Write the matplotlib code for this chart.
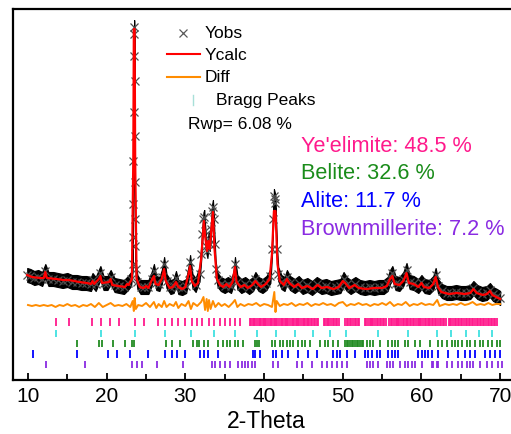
import numpy as np
import matplotlib.pyplot as plt
from matplotlib.lines import Line2D
from matplotlib.ticker import MultipleLocator

plt.rcParams['font.family'] = ['Liberation Sans', 'DejaVu Sans']

# ---- values (2-theta, intensity) ----
calc_pts = [
    (9.9, 104), (10.5, 102), (11.5, 101), (12.0, 101), (12.2, 107), (12.4, 101),
    (13.6, 100), (14.5, 99), (15.2, 99), (16.5, 97), (17.5, 96), (18.0, 95),
    (18.2, 98), (18.4, 95), (19.0, 100), (19.2, 103), (19.4, 96), (20.3, 97),
    (20.5, 100), (20.7, 94), (21.5, 93), (22.3, 92), (22.6, 95), (22.8, 94),
    (23.2, 100), (23.38, 220), (23.45, 350), (23.55, 350), (23.62, 220), (23.8, 100),
    (24.2, 92), (24.7, 91), (25.0, 93), (25.3, 91), (25.8, 100), (26.0, 103),
    (26.2, 95), (26.6, 94), (27.0, 100), (27.3, 110), (27.5, 98), (28.0, 91),
    (28.4, 92), (28.8, 97), (29.1, 92), (29.6, 90), (30.0, 92), (30.4, 105),
    (30.6, 113), (30.8, 98), (31.2, 93), (31.6, 96), (32.0, 120), (32.35, 158),
    (32.55, 140), (32.75, 128), (32.9, 138), (33.1, 130), (33.3, 150), (33.5, 167),
    (33.7, 130), (34.0, 100), (34.4, 94), (34.8, 92), (35.2, 95), (35.6, 92),
    (36.0, 97), (36.3, 112), (36.5, 97), (37.0, 92), (37.5, 94), (37.9, 91),
    (38.5, 94), (38.9, 98), (39.2, 95), (39.6, 92), (40.2, 95), (40.7, 100),
    (41.0, 125), (41.25, 168), (41.45, 168), (41.7, 115), (42.0, 98), (42.5, 94),
    (42.9, 100), (43.2, 96), (43.8, 92), (44.3, 95), (44.8, 91), (45.5, 93),
    (46.2, 90), (46.8, 94), (47.3, 91), (48.0, 92), (48.8, 90), (49.5, 92),
    (50.0, 98), (50.3, 96), (50.8, 91), (51.5, 94), (52.0, 91), (53.0, 90),
    (54.0, 91), (55.0, 91), (55.6, 93), (56.0, 100), (56.3, 103), (56.6, 95),
    (57.2, 94), (57.7, 98), (58.1, 106), (58.4, 96), (59.0, 95), (59.6, 92),
    (60.0, 96), (60.3, 92), (61.0, 91), (61.5, 95), (61.8, 102), (62.1, 92),
    (62.5, 87), (63.5, 85), (64.5, 86), (65.5, 85), (66.2, 86), (66.6, 90),
    (67.0, 86), (67.8, 84), (68.3, 85), (68.7, 88), (69.0, 84), (69.5, 82),
    (70.0, 80),
]

obs_pts = [
    (9.9, 104), (10.3, 103), (10.8, 101), (11.3, 102), (11.8, 100), (12.2, 108),
    (12.6, 100), (13.2, 100), (13.8, 99), (14.4, 98), (15.0, 99), (15.6, 97),
    (16.2, 97), (16.8, 96), (17.4, 96), (18.0, 95), (18.2, 99), (18.6, 95),
    (19.2, 106), (19.6, 96), (20.1, 96), (20.5, 102), (21.0, 94), (21.6, 93),
    (22.2, 92), (22.7, 96), (23.1, 100), (23.30, 115), (23.34, 142), (23.37, 175),
    (23.40, 218), (23.43, 267), (23.46, 323), (23.49, 352), (23.52, 345), (23.54, 298),
    (23.56, 243), (23.58, 197), (23.61, 160), (23.64, 133), (23.68, 110), (23.9, 97),
    (24.3, 92), (24.8, 92), (25.3, 92), (25.7, 100), (26.0, 108), (26.3, 96),
    (26.7, 95), (27.0, 102), (27.3, 115), (27.6, 98), (28.1, 92), (28.5, 93),
    (28.8, 101), (29.1, 92), (29.6, 91), (30.1, 93), (30.4, 106), (30.6, 117),
    (30.9, 98), (31.3, 94), (31.8, 105), (32.0, 125), (32.15, 145), (32.3, 160),
    (32.4, 162), (32.5, 148), (32.65, 133), (32.8, 128), (32.95, 140), (33.1, 135),
    (33.25, 150), (33.4, 168), (33.5, 172), (33.6, 160), (33.7, 135), (33.85, 110),
    (34.1, 99), (34.5, 95), (35.0, 93), (35.4, 95), (35.8, 93), (36.1, 100),
    (36.3, 115), (36.6, 97), (37.1, 93), (37.6, 95), (38.1, 92), (38.6, 95),
    (38.9, 100), (39.3, 95), (39.8, 93), (40.3, 96), (40.8, 103), (41.0, 130),
    (41.15, 160), (41.25, 183), (41.35, 180), (41.45, 176), (41.6, 130), (41.8, 105),
    (42.2, 97), (42.6, 95), (42.9, 102), (43.3, 96), (43.9, 93), (44.4, 96),
    (44.9, 92), (45.5, 94), (46.1, 91), (46.7, 95), (47.3, 92), (47.9, 93),
    (48.5, 91), (49.1, 92), (49.7, 93), (50.1, 100), (50.5, 95), (51.0, 92),
    (51.6, 95), (52.2, 92), (52.8, 91), (53.4, 92), (54.0, 91), (54.6, 92),
    (55.2, 92), (55.7, 95), (56.0, 102), (56.3, 106), (56.7, 96), (57.2, 95),
    (57.7, 100), (58.1, 109), (58.5, 97), (59.0, 96), (59.6, 93), (60.0, 97),
    (60.4, 93), (61.0, 92), (61.5, 96), (61.8, 104), (62.1, 93), (62.6, 88),
    (63.2, 86), (63.8, 86), (64.4, 87), (65.0, 86), (65.6, 86), (66.2, 87),
    (66.6, 91), (67.1, 87), (67.7, 85), (68.3, 86), (68.7, 89), (69.1, 85),
    (69.6, 83), (70.0, 81),
]

diff_pts = [
    (10.0, 74), (10.5, 73), (11.0, 74), (11.5, 73), (12.0, 74), (12.5, 73),
    (13.0, 74), (13.5, 72), (14.0, 74), (14.5, 73), (15.0, 75), (15.5, 73),
    (16.0, 74), (16.5, 72), (17.0, 74), (17.5, 73), (18.0, 75), (18.5, 72),
    (19.0, 76), (19.5, 72), (20.0, 74), (20.5, 76), (21.0, 73), (21.5, 74),
    (22.0, 73), (22.5, 75), (23.0, 72), (23.3, 78), (23.45, 68), (23.55, 81),
    (23.7, 70), (24.0, 74), (24.5, 73), (25.0, 76), (25.5, 72), (26.0, 77),
    (26.3, 71), (26.6, 75), (27.0, 72), (27.3, 78), (27.6, 72), (28.0, 75),
    (28.5, 73), (28.8, 77), (29.1, 71), (29.5, 75), (30.0, 73), (30.4, 78),
    (30.7, 70), (31.0, 76), (31.5, 73), (32.0, 77), (32.3, 82), (32.5, 69),
    (32.7, 80), (32.85, 68), (33.0, 79), (33.2, 70), (33.5, 78), (33.8, 72),
    (34.2, 76), (34.6, 73), (35.0, 75), (35.5, 72), (36.0, 76), (36.3, 79),
    (36.6, 72), (37.0, 75), (37.5, 73), (38.0, 75), (38.5, 74), (39.0, 76),
    (39.5, 73), (40.0, 75), (40.5, 74), (41.0, 72), (41.3, 87), (41.45, 67),
    (41.6, 78), (42.0, 73), (42.5, 75), (43.0, 74), (43.5, 76), (44.0, 73),
    (44.5, 75), (45.0, 74), (45.5, 76), (46.0, 73), (46.5, 75), (47.0, 74),
    (47.5, 76), (48.0, 74), (48.5, 75), (49.0, 73), (49.5, 76), (50.0, 77),
    (50.5, 73), (51.0, 75), (51.5, 74), (52.0, 76), (52.5, 74), (53.0, 75),
    (53.5, 73), (54.0, 75), (54.5, 74), (55.0, 76), (55.5, 74), (56.0, 77),
    (56.5, 73), (57.0, 75), (57.5, 74), (58.0, 77), (58.5, 73), (59.0, 75),
    (59.5, 74), (60.0, 76), (60.5, 74), (61.0, 75), (61.5, 74), (62.0, 79),
    (62.3, 73), (63.0, 75), (63.5, 74), (64.0, 75), (64.5, 74), (65.0, 76),
    (65.5, 74), (66.0, 75), (66.5, 77), (67.0, 74), (67.5, 75), (68.0, 74),
    (68.5, 76), (69.0, 74), (69.5, 75), (70.0, 75),
]

# Bragg reflection positions per phase (2-theta)
yeelimite_peaks = [
    13.56, 15.2, 18.09, 19.27, 20.42, 21.56, 23.6, 24.74, 26.56, 27.4, 28.26, 29.1,
    29.95, 30.8, 31.5, 32.15, 33.04, 33.67, 34.4, 35.03, 35.67, 36.3, 37.0,
    38.2, 38.4, 38.6, 38.75, 38.9, 39.1, 39.3, 39.45, 39.6, 39.8, 40.0, 40.15,
    40.3, 40.5, 40.7, 40.85, 41.0, 41.2, 41.4, 41.55, 41.7, 41.9, 42.1, 42.25,
    42.4, 42.6, 42.8, 42.95, 43.1, 43.3, 43.5, 43.65, 43.8, 44.0, 44.2, 44.35,
    44.5, 44.7, 44.9, 45.05, 45.2, 45.4, 45.6, 45.75, 45.9, 46.1, 46.3, 46.5,
    46.7, 46.85, 47.6, 47.8, 48.0, 48.15, 48.3, 48.5, 48.7, 48.9, 49.1, 49.3,
    49.5, 50.3, 50.5, 50.7, 50.9, 51.1, 51.3, 51.5, 51.7, 51.9, 52.1, 52.8,
    53.0, 53.2, 53.4, 53.55, 53.7, 53.9, 54.1, 54.3, 54.5, 54.7, 54.9, 55.1,
    55.3, 55.5, 55.9, 56.1, 56.3, 56.5, 56.7, 56.85, 57.0, 57.2, 57.4, 57.6,
    57.8, 58.0, 58.2, 58.35, 58.5, 58.7, 58.9, 59.1, 59.3, 59.5, 59.65, 59.8,
    60.0, 60.2, 60.4, 60.6, 60.8, 60.95, 61.1, 61.3, 61.5, 61.7, 61.9, 62.1,
    62.3, 62.5, 62.7, 62.9, 63.1, 63.45, 63.6, 63.8, 64.0, 64.2, 64.4, 64.6,
    64.8, 65.0, 65.2, 65.4, 65.6, 65.8, 66.0, 66.2, 66.4, 66.6, 66.8, 67.0,
    67.2, 67.4, 67.6, 67.8, 68.0, 68.2, 68.4, 68.6, 68.8, 69.0, 69.2, 69.4, 69.6,
]
minor_peaks = [
    13.56, 19.27, 23.6, 27.4, 30.7, 33.63, 36.3, 39.06, 41.5, 43.9, 46.26, 48.38,
    50.4, 54.5, 58.3, 62.0, 63.8, 65.6, 67.3, 69.0,
]
belite_peaks = [
    16.18, 19.06, 19.36, 20.76, 22.33, 23.17, 23.47, 27.49, 28.25, 29.31, 31.01,
    31.43, 31.77, 32.36, 32.83, 34.18, 34.74, 35.24, 35.67, 36.3, 36.73, 37.28,
    38.84, 39.14, 39.39, 40.96, 41.38, 42.02, 42.44, 42.87, 43.29, 43.71, 44.35,
    44.77, 45.2, 45.83, 47.1, 47.74, 48.16, 48.8, 49.43, 50.28, 50.5, 50.7, 50.9,
    51.13, 51.35, 51.55, 51.76, 51.95, 52.19, 52.4, 52.61, 53.03, 53.46, 53.88,
    54.73, 55.79, 56.21, 56.63, 57.06, 57.9, 58.33, 59.17, 59.81, 61.08, 62.14,
    62.56, 63.2, 63.83, 64.26, 64.68, 65.1, 65.74, 66.16, 66.8, 67.43, 67.86,
    68.49, 68.91, 69.55, 69.97,
]
alite_peaks = [
    10.59, 16.18, 20.21, 21.27, 22.96, 25.2, 27.41, 28.25, 28.89, 29.95, 31.86,
    32.36, 32.91, 34.18, 38.55, 38.84, 39.48, 41.09, 41.51, 42.23, 43.08, 44.27,
    45.62, 46.68, 48.8, 49.22, 49.64, 50.49, 51.55, 52.82, 53.24, 53.67, 54.3,
    54.73, 55.79, 56.21, 56.63, 57.06, 59.6, 60.02, 60.44, 60.87, 61.29, 62.14,
    63.41, 64.68, 65.53, 66.16, 66.8, 68.07, 68.7, 69.34, 69.97,
]
brownmillerite_peaks = [
    12.24, 17.24, 23.17, 23.81, 24.44, 26.35, 29.74, 33.34, 33.76, 34.4, 35.03,
    35.67, 36.73, 37.15, 37.57, 38.0, 38.42, 38.84, 41.17, 41.81, 44.14, 44.77,
    46.04, 47.31, 47.95, 48.58, 49.22, 49.86, 50.49, 53.03, 53.46, 53.88, 54.52,
    55.57, 56.0, 56.42, 57.27, 57.9, 58.33, 58.75, 59.17, 60.02, 61.29, 61.5,
    61.93, 62.14, 63.2, 63.83, 64.68, 65.1, 65.74, 66.16, 66.59, 67.43, 68.28,
    68.91, 69.76, 70.19,
]

phases = ["Ye'elimite", "Belite", "Alite", "Brownmillerite"]
fractions = [48.5, 32.6, 11.7, 7.2]
rwp = 6.08

tt_calc, y_calc = np.array(calc_pts).T
tt_obs, y_obs = np.array(obs_pts).T
tt_diff, y_diff = np.array(diff_pts).T

W, H = 511, 435
fig = plt.figure(figsize=(W / 100, H / 100), dpi=100)
ax = fig.add_axes([13 / W, 1 - 381 / H, (520 - 13) / W, (381 - 10) / H])

# observed points: dense crosses form a black band
ax.fill_between(tt_obs, y_obs - 7, y_obs + 7, color='black', lw=0.8, zorder=2)
ax.plot(tt_obs, y_obs, 'x', ms=5.5, mew=0.9, color='0.3', zorder=3)
ax.plot(tt_calc, y_calc, color='red', lw=1.6, zorder=4)
ax.plot(tt_diff, y_diff, color='#ff8c00', lw=1.4, zorder=4)

rows = [
    (yeelimite_peaks, 53.5, 61.5, '#ff1a8c'),
    (minor_peaks, 42, 49, '#40e0e0'),
    (belite_peaks, 32, 39, '#228b22'),
    (alite_peaks, 21, 29, '#0000ff'),
    (brownmillerite_peaks, 11, 18, '#8a2be2'),
]
for pos, lo, hi, col in rows:
    ax.vlines(pos, lo, hi, colors=col, lw=1.3)

ax.set_xlim(8.094, 72.52)
ax.set_ylim(-1, 370)
ax.set_xticks(range(10, 80, 10))
ax.xaxis.set_minor_locator(MultipleLocator(5))
ax.set_yticks([])
ax.tick_params(axis='x', which='both', direction='in', width=1.3, labelsize=15, pad=4.5)
ax.tick_params(axis='x', which='major', length=5)
ax.tick_params(axis='x', which='minor', length=4)
for s in ['left', 'top', 'bottom']:
    ax.spines[s].set_linewidth(1.6)
ax.spines['right'].set_visible(False)
ax.set_xlabel('2-Theta', fontsize=16.5, labelpad=2.5)


def fx(x):
    return x / W


def fy(y):
    return 1 - y / H


# legend drawn by hand
fig.add_artist(Line2D([fx(183)], [fy(34)], marker='x', ms=6, mew=0.9, color='0.35'))
fig.add_artist(Line2D([fx(167), fx(200)], [fy(55), fy(55)], color='red', lw=1.5))
fig.add_artist(Line2D([fx(167), fx(200)], [fy(78), fy(78)], color='#ff8c00', lw=1.5))
fig.add_artist(Line2D([fx(193), fx(193)], [fy(96), fy(106)], color='#a8e0d8', lw=1.0))
fig.text(fx(205), fy(33), 'Yobs', fontsize=12.5, va='center')
fig.text(fx(205), fy(55), 'Ycalc', fontsize=12.5, va='center')
fig.text(fx(205), fy(78), 'Diff', fontsize=12.5, va='center')
fig.text(fx(216), fy(101), 'Bragg Peaks', fontsize=12.5, va='center')
fig.text(fx(188), fy(124), 'Rwp= %.2f %%' % rwp, fontsize=12.5, va='center')

text_cols = ['#ff1a8c', '#1a8c1a', '#0000ff', '#8a2be2']
for i, (name, frac) in enumerate(zip(phases, fractions)):
    fig.text(fx(301), fy(146 + i * 27.7), '%s: %.1f %%' % (name, frac),
             fontsize=15.6, color=text_cols[i], va='center')

fig.savefig('out.png', dpi=100)
